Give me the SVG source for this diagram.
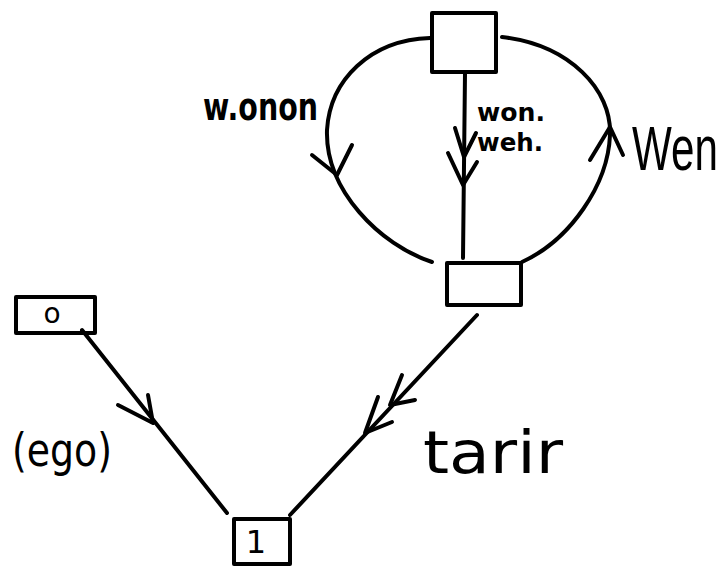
<svg xmlns="http://www.w3.org/2000/svg" width="724" height="569" viewBox="0 0 724 569">
  <style>
    .box { fill: none; stroke: #000; stroke-width: 4; stroke-linejoin: round; }
    .edge { fill: none; stroke: #000; stroke-width: 4; stroke-linecap: round; stroke-linejoin: round; }
    .lbl { font-family: "DejaVu Sans", "Liberation Sans", sans-serif; fill: #000; }
  </style>
  <rect width="724" height="569" fill="#fff"/>

  <g id="connectors">
    <!-- top box to middle box, left loop -->
    <path class="edge" d="M430,38 C370,40 330,80 327,130 C325,190 380,245 432,262"/>
    <path class="edge" d="M312,155 L337,175 L352,145"/>
    <!-- top box to middle box, straight -->
    <path class="edge" d="M465,73 L463,258"/>
    <path class="edge" d="M455,128 L464,157 L476,133"/>
    <path class="edge" d="M448,153 L463,185 L477,162"/>
    <!-- middle box back to top box, right loop -->
    <path class="edge" d="M502,37 C570,45 612,90 610,135 C608,185 570,240 522,262"/>
    <path class="edge" d="M590,160 L610,127 L623,155"/>
    <!-- middle box to box 1 -->
    <path class="edge" d="M477,315 L290,515"/>
    <path class="edge" d="M402,375 L390,405 L415,400"/>
    <path class="edge" d="M378,397 L365,433 L392,422"/>
    <!-- box 0 to box 1 -->
    <path class="edge" d="M82,330 L227,513"/>
    <path class="edge" d="M118,405 L153,423 L148,395"/>
  </g>

  <g id="node-top">
    <rect class="box" x="432" y="13" width="64" height="59"/>
  </g>
  <g id="node-middle">
    <rect class="box" x="447" y="263" width="74" height="42"/>
  </g>
  <g id="node-0">
    <rect class="box" x="16" y="297" width="79" height="36"/>
    <text class="lbl" x="52" y="323" font-size="28" text-anchor="middle">o</text>
  </g>
  <g id="node-1">
    <rect class="box" x="234" y="519" width="56" height="45"/>
    <text class="lbl" x="256" y="553" font-size="32" text-anchor="middle">1</text>
  </g>

  <g id="labels">
    <text class="lbl" x="203" y="120" font-size="38" font-weight="bold" textLength="115" lengthAdjust="spacingAndGlyphs">w.onon</text>
    <text class="lbl" x="477" y="121" font-size="24" font-weight="bold" textLength="68" lengthAdjust="spacingAndGlyphs">won.</text>
    <text class="lbl" x="477" y="151" font-size="24" font-weight="bold" textLength="66" lengthAdjust="spacingAndGlyphs">weh.</text>
    <text class="lbl" font-family="Liberation Sans, sans-serif" font-size="62" transform="translate(632,170) scale(0.68,1)" style="font-family:'Liberation Sans',sans-serif">Wen</text>
    <text class="lbl" x="423" y="473" font-size="58" textLength="140" lengthAdjust="spacingAndGlyphs">tarir</text>
    <text class="lbl" x="12" y="466" font-size="46" textLength="100" lengthAdjust="spacingAndGlyphs">(ego)</text>
  </g>
</svg>
